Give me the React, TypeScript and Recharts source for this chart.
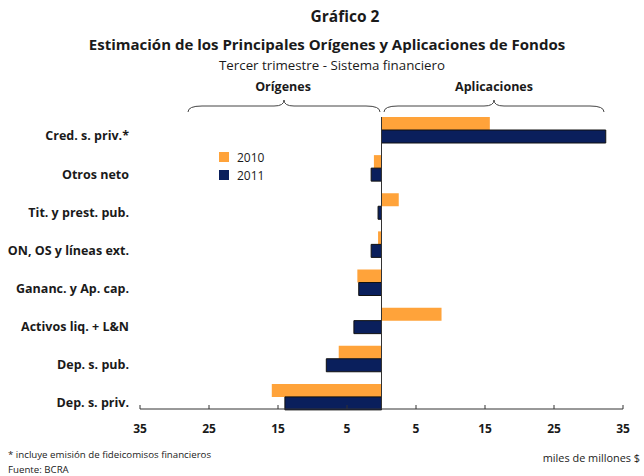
import React from "react";
import { BarChart, Bar, XAxis, YAxis, ReferenceLine, Legend } from "recharts";

const categories = [
  "Cred. s. priv.*",
  "Otros neto",
  "Tit. y prest. pub.",
  "ON, OS y líneas ext.",
  "Gananc. y Ap. cap.",
  "Activos liq. + L&N",
  "Dep. s. pub.",
  "Dep. s. priv.",
];
const values2010 = [15.7, -1.1, 2.5, -0.5, -3.5, 8.7, -6.2, -15.9];
const values2011 = [32.5, -1.5, -0.5, -1.5, -3.3, -4.0, -8.0, -14.0];
const xTicks = [-35, -25, -15, -5, 5, 15, 25, 35];

const data = categories.map((c, i) => ({ name: c, y2010: values2010[i], y2011: values2011[i] }));

const ORANGE = "#FFA33A";
const NAVY = "#0A1F5C";
const FONT = "'Open Sans', Lato, sans-serif";

const YTick = (props: any) => {
  const { x, y, payload } = props;
  return (
    <text x={x} y={y + 6} dy="0.35em" textAnchor="end" fontFamily={FONT} fontWeight={700} fontSize={12.5} fill="#1a1a1a">
      {payload.value}
    </text>
  );
};

const XTick = (props: any) => {
  const { x, y, payload } = props;
  return (
    <g>
      <line x1={x} x2={x} y1={y - 4} y2={y} stroke="#333" strokeWidth={1} />
      <text x={x} y={y + 20} dy="0.35em" textAnchor="middle" fontFamily={FONT} fontWeight={700} fontSize={12} fill="#1a1a1a">
        {Math.abs(payload.value)}
      </text>
    </g>
  );
};

const LegendContent = (props: any) => {
  const { payload } = props;
  return (
    <div style={{ fontFamily: FONT, fontSize: 12, color: "#1a1a1a" }}>
      {(payload || []).map((p: any) => (
        <div key={p.value} style={{ display: "flex", alignItems: "center", height: 18 }}>
          <span style={{ display: "inline-block", width: 10, height: 10, background: p.color, marginRight: 8 }} />
          <span>{p.value}</span>
        </div>
      ))}
    </div>
  );
};

const brace = (x1: number, xm: number, x2: number) => {
  const yb = 112, yf = 106, yt = 100;
  return `M ${x1} ${yb} Q ${x1} ${yf} ${x1 + 14} ${yf} L ${xm - 10} ${yf} Q ${xm} ${yf} ${xm} ${yt} Q ${xm} ${yf} ${xm + 10} ${yf} L ${x2 - 14} ${yf} Q ${x2} ${yf} ${x2} ${yb}`;
};

export default function App() {
  return (
    <div style={{ position: "absolute", left: 0, top: 0, width: 644, height: 476, background: "#fff" }}>
      <BarChart
        width={644}
        height={476}
        data={data}
        layout="vertical"
        margin={{ top: 117, right: 21, bottom: 37, left: 0 }}
        barGap={0}
        barSize={13}
      >
        <XAxis
          type="number"
          domain={[-35, 35]}
          ticks={xTicks}
          interval={0}
          axisLine={{ stroke: "#333", strokeWidth: 1 }}
          tickLine={false}
          tickSize={0}
          tickMargin={0}
          tick={<XTick />}
          height={30}
        />
        <YAxis
          type="category"
          dataKey="name"
          width={140}
          axisLine={false}
          tickLine={false}
          tickSize={0}
          tickMargin={11}
          interval={0}
          tick={<YTick />}
          padding={{ top: -6, bottom: -7 }}
        />
        <Legend
          layout="horizontal"
          verticalAlign="middle"
          align="center"
          content={<LegendContent />}
          wrapperStyle={{ left: 219, top: 148, width: 80, height: 40 }}
        />
        <Bar dataKey="y2010" name="2010" fill={ORANGE} isAnimationActive={false} />
        <Bar dataKey="y2011" name="2011" fill={NAVY} stroke="#111" strokeWidth={1} isAnimationActive={false} />
        <ReferenceLine x={0} stroke="#333" strokeWidth={1} />
      </BarChart>
      <svg width={644} height={476} style={{ position: "absolute", left: 0, top: 0, pointerEvents: "none" }}>
        <g fontFamily={FONT} fill="#1a1a1a">
          <text x={345} y={17} dy="0.35em" textAnchor="middle" fontWeight={700} fontSize={15.5}>Gráfico 2</text>
          <text x={327} y={45} dy="0.35em" textAnchor="middle" fontWeight={700} fontSize={15}>
            Estimación de los Principales Orígenes y Aplicaciones de Fondos
          </text>
          <text x={332} y={65} dy="0.35em" textAnchor="middle" fontSize={13.3}>Tercer trimestre - Sistema financiero</text>
          <text x={283} y={87} dy="0.35em" textAnchor="middle" fontWeight={700} fontSize={12.5}>Orígenes</text>
          <text x={494} y={87} dy="0.35em" textAnchor="middle" fontWeight={700} fontSize={12.5}>Aplicaciones</text>
          <text x={8} y={455} dy="0.35em" fontSize={9.7}>* incluye emisión de fideicomisos financieros</text>
          <text x={8} y={470} dy="0.35em" fontSize={9.7}>Fuente: BCRA</text>
          <text x={640} y={458} dy="0.35em" textAnchor="end" fontSize={10.9}>miles de millones $</text>
        </g>
        <path d={brace(188, 284, 380)} fill="none" stroke="#444" strokeWidth={1} />
        <path d={brace(384, 494, 604)} fill="none" stroke="#444" strokeWidth={1} />
      </svg>
    </div>
  );
}
